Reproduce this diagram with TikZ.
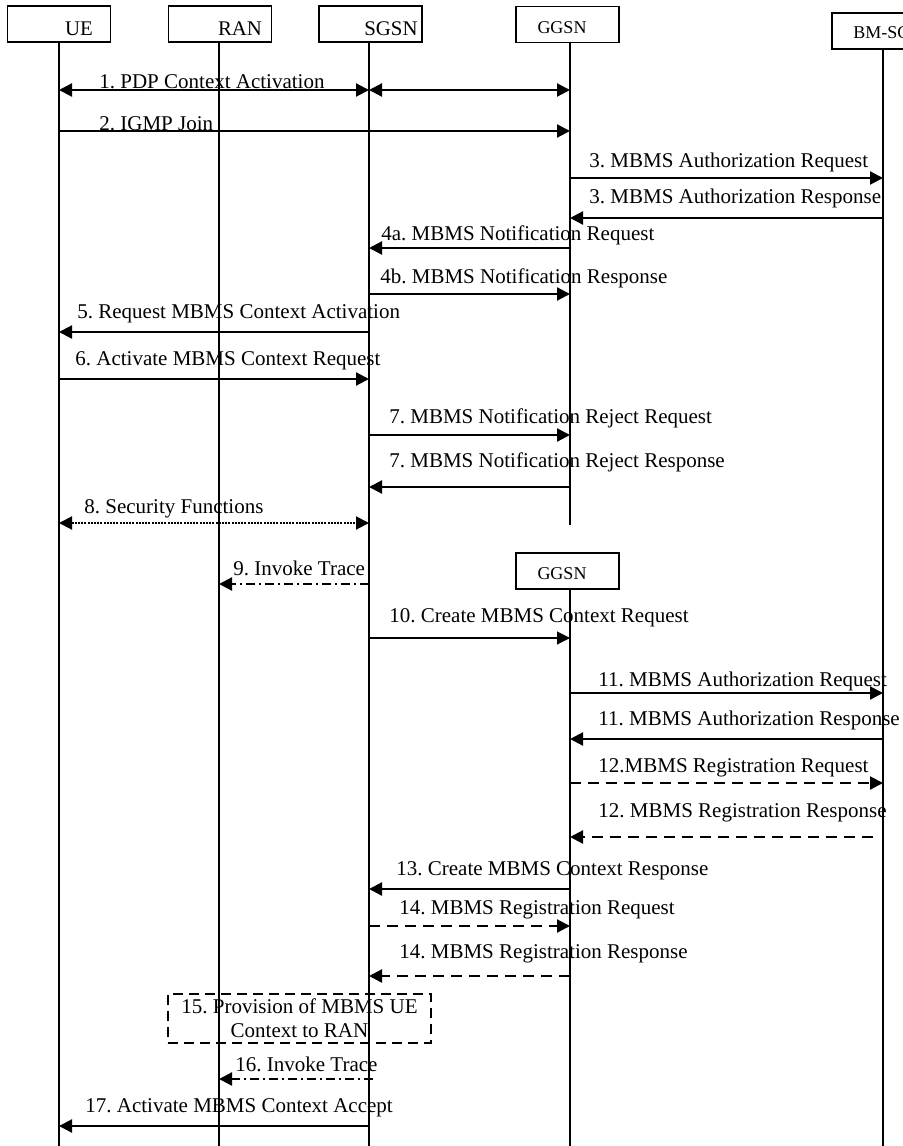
\documentclass[tikz,border=0pt]{standalone}
\usepackage{fontspec}
\setmainfont{Liberation Serif}
\usetikzlibrary{arrows.meta,calc}
\frenchspacing
\begin{document}
\begin{tikzpicture}[x=0.5pt,y=-0.5pt,
  font=\fontsize{10.5}{12}\selectfont,
  hdr/.style={draw,line width=0.65pt,minimum width=51.5pt,minimum height=18pt,inner sep=0},
  hdrtxt/.style={anchor=base,inner sep=0,font=\fontsize{10.4}{12}\selectfont},
  smalltxt/.style={anchor=base,inner sep=0,font=\fontsize{9}{11}\selectfont},
  life/.style={line width=0.6pt},
  tip/.tip={Triangle[length=6.5pt,width=6.5pt]},
  msg/.style={line width=1.1pt,-tip},
  both/.style={line width=1.1pt,tip-tip},
  thinmsg/.style={line width=0.55pt,-tip},
  dmsg/.style={line width=1.1pt,-tip,dash pattern=on 5.5pt off 3.5pt},
  dotmsg/.style={line width=1pt,tip-tip,dash pattern=on 1pt off 0.6pt},
  trace/.style={line width=1.1pt,-tip,dash pattern=on 4.5pt off 2pt on 1pt off 2pt},
  lbl/.style={anchor=base west,inner sep=0}]
\clip (0,0) rectangle (903,1146);
% lifeline x positions
\coordinate (UE) at (59,0);
\coordinate (RA) at (219,0);
\coordinate (SG) at (369,0);
\coordinate (GG) at (570,0);
\coordinate (BM) at (883,0);
% header boxes
\node[hdr] (ueB) at (59,24) {};
\node[hdr] (raB) at (220,24) {};
\node[hdr] (sgB) at (370.5,24) {};
\node[hdr] (ggB) at (567.5,24.5) {};
\node[hdr] (bmB) at (883.5,31) {};
\node[hdr] (gg2B) at (567.5,571) {};
\node[hdrtxt] (ueT) at (79,35) {UE};
\node[hdrtxt] (raT) at (240,35) {RAN};
\node[hdrtxt] (sgT) at (391,35) {SGSN};
\node[smalltxt] (ggT) at (562,33) {GGSN};
\node[smalltxt,anchor=base west] (bmT) at (853,38) {BM-SC};
\node[smalltxt] (gg2T) at (562,579) {GGSN};
% lifelines
\draw[life] (UE|-ueB.south) -- (UE|-0,1146);
\draw[life] (RA|-raB.south) -- (RA|-0,1146);
\draw[life] (SG|-sgB.south) -- (SG|-0,1146);
\draw[life] (GG|-ggB.south) -- (GG|-0,525);
\draw[life] (GG|-gg2B.south) -- (GG|-0,1146);
\draw[life] (BM|-bmB.south) -- (BM|-0,1146);
% messages
\draw[both] (UE|-0,90) -- (SG|-0,90);
\draw[both] (SG|-0,90) -- (GG|-0,90);
\node[lbl] (l1) at (99,88) {1. PDP Context Activation};
\draw[msg] (UE|-0,131) -- (GG|-0,131);
\node[lbl] (l2) at (99,130) {2. IGMP Join};
\draw[msg] (GG|-0,178) -- (BM|-0,178);
\node[lbl] (l3a) at (589,167) {3. MBMS Authorization Request};
\draw[msg] (BM|-0,218) -- (GG|-0,218);
\node[lbl] (l3b) at (589,203) {3. MBMS Authorization Response};
\draw[msg] (GG|-0,248) -- (SG|-0,248);
\node[lbl] (l4a) at (381,240) {4a. MBMS Notification Request};
\draw[msg] (SG|-0,294) -- (GG|-0,294);
\node[lbl] (l4b) at (380,283) {4b. MBMS Notification Response};
\draw[msg] (SG|-0,332) -- (UE|-0,332);
\node[lbl] (l5) at (77,318) {5. Request MBMS Context Activation};
\draw[msg] (UE|-0,379) -- (SG|-0,379);
\node[lbl] (l6) at (75,365) {6. Activate MBMS Context Request};
\draw[msg] (SG|-0,435) -- (GG|-0,435);
\node[lbl] (l7a) at (389,423) {7. MBMS Notification Reject Request};
\draw[msg] (GG|-0,487) -- (SG|-0,487);
\node[lbl] (l7b) at (389,467) {7. MBMS Notification Reject Response};
\draw[dotmsg] (UE|-0,523) -- (SG|-0,523);
\node[lbl] (l8) at (84,513) {8. Security Functions};
\draw[trace] (SG|-0,584) -- (RA|-0,584);
\node[lbl] (l9) at (233,575) {9. Invoke Trace};
\draw[thinmsg] (SG|-0,638) -- (GG|-0,638);
\node[lbl] (l10) at (389,622) {10. Create MBMS Context Request};
\draw[msg] (GG|-0,693) -- (BM|-0,693);
\node[lbl] (l11a) at (598,686) {11. MBMS Authorization Request};
\draw[msg] (BM|-0,739) -- (GG|-0,739);
\node[lbl] (l11b) at (598,725) {11. MBMS Authorization Response};
\draw[dmsg] (GG|-0,783) -- (BM|-0,783);
\node[lbl] (l12a) at (598,772) {12.MBMS Registration Request};
\draw[dmsg] ($(BM|-0,837)+(-10,0)$) -- (GG|-0,837);
\node[lbl] (l12b) at (598,817) {12. MBMS Registration Response};
\draw[msg] (GG|-0,889) -- (SG|-0,889);
\node[lbl] (l13) at (396,875) {13. Create MBMS Context Response};
\draw[dmsg] (SG|-0,926) -- (GG|-0,926);
\node[lbl] (l14a) at (399,914) {14. MBMS Registration Request};
\draw[dmsg] (GG|-0,976) -- (SG|-0,976);
\node[lbl] (l14b) at (399,958) {14. MBMS Registration Response};
\node[draw,line width=0.8pt,dash pattern=on 5pt off 3pt,minimum width=131.5pt,minimum height=24.5pt,
      align=center,inner sep=0,font=\fontsize{10.5}{12}\selectfont] (p15) at (299.5,1018.5)
      {15. Provision of MBMS UE\\Context to RAN};
\draw[trace] ($(SG|-0,1079)+(4,0)$) -- (RA|-0,1079);
\node[lbl] (l16) at (235,1071) {16. Invoke Trace};
\draw[msg] (SG|-0,1126) -- (UE|-0,1126);
\node[lbl] (l17) at (85,1112) {17. Activate MBMS Context Accept};
\end{tikzpicture}
\end{document}
